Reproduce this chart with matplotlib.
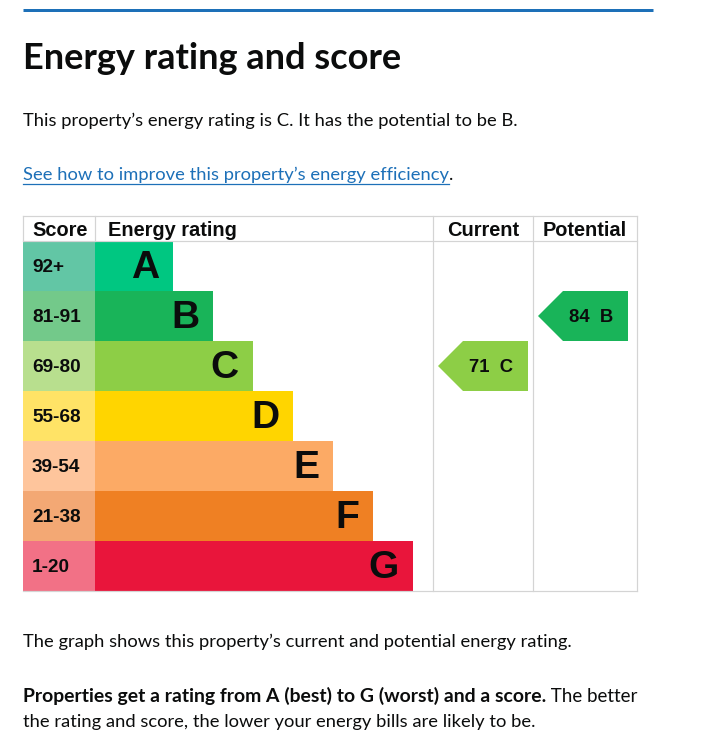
import matplotlib
matplotlib.use("Agg")
import matplotlib.pyplot as plt
from matplotlib.patches import Rectangle, Polygon

# ---- data ----
bands = ["A", "B", "C", "D", "E", "F", "G"]
score_ranges = ["92+", "81-91", "69-80", "55-68", "39-54", "21-38", "1-20"]
band_min = [92, 81, 69, 55, 39, 21, 1]
band_colors = ["#00c781", "#19b459", "#8dce46", "#ffd500", "#fcaa65", "#ef8023", "#e9153b"]
score_colors = ["#62c6a5", "#73c98a", "#b8df8e", "#ffe366", "#fec59c", "#f3a874", "#f27186"]
headers = ["Score", "Energy rating", "Current", "Potential"]
current_score = 71
potential_score = 84

title = "Energy rating and score"
line1 = "This property\u2019s energy rating is C. It has the potential to be B."
link = "See how to improve this property\u2019s energy efficiency"
line_graph = "The graph shows this property\u2019s current and potential energy rating."
bold_part = "Properties get a rating from A (best) to G (worst) and a score."
normal_part = " The better"
line_last = "the rating and score, the lower your energy bills are likely to be."

# ---- figure ----
W, H = 724, 756
fig = plt.figure(figsize=(W / 100, H / 100), dpi=100)
ax = fig.add_axes([0, 0, 1, 1])
ax.set_xlim(0, W)
ax.set_ylim(H, 0)
ax.axis("off")
renderer = fig.canvas.get_renderer()

BLACK = "#0b0c0c"
BLUE = "#1d70b8"
GRID = "#d4d4d4"
BODY_FONT = "Lato"


def px(v):
    return v * 0.72


def width_of(t):
    bb = t.get_window_extent(renderer=renderer)
    return bb.width


def fit_size(s, target, weight, family):
    t = ax.text(0, 0, s, fontsize=20, fontweight=weight, family=family)
    w = width_of(t)
    t.remove()
    return 20 * target / w


# top rule
ax.plot([23, 653], [9.5, 9.5], color=BLUE, lw=3 * 0.72, solid_capstyle="butt")

# title
ts = fit_size(title, 378, "bold", BODY_FONT)
ax.text(23, 69, title, fontsize=ts, fontweight="bold", family=BODY_FONT,
        color=BLACK, va="baseline", ha="left")

# body
bs = fit_size(line1, 494, "normal", BODY_FONT)
ax.text(23, 126, line1, fontsize=bs, family=BODY_FONT, color=BLACK, va="baseline")
lt = ax.text(23, 180, link, fontsize=bs, family=BODY_FONT, color=BLUE, va="baseline")
lw_ = width_of(lt)
ax.plot([23, 23 + lw_], [184, 184], color=BLUE, lw=0.9)
ax.text(23 + lw_, 180, ".", fontsize=bs, family=BODY_FONT, color=BLACK, va="baseline")

ax.text(23, 647, line_graph, fontsize=bs, family=BODY_FONT, color=BLACK, va="baseline")
bbs = min(fit_size(bold_part, 522, "bold", BODY_FONT), bs * 1.06)
bt = ax.text(23, 702, bold_part, fontsize=bbs, family=BODY_FONT, fontweight="bold",
             color=BLACK, va="baseline")
bw = width_of(bt)
ax.text(23 + bw, 702, normal_part, fontsize=bs * 1.02, family=BODY_FONT, color=BLACK,
        va="baseline")
ax.text(23, 727, line_last, fontsize=bs, family=BODY_FONT, color=BLACK, va="baseline")

# ---- table ----
x0, xs, xc, xp, xr = 23, 95, 433, 533, 637
top, hh, rh = 216, 25, 50
ybody = top + hh
ybot = ybody + rh * len(bands)
TFONT = "Liberation Sans"

for i, b in enumerate(bands):
    y = ybody + i * rh
    ax.add_patch(Rectangle((x0, y), xs - x0, rh, facecolor=score_colors[i], edgecolor="none"))
    blen = 78 + 40 * i
    ax.add_patch(Rectangle((xs, y), blen, rh, facecolor=band_colors[i], edgecolor="none"))
    ax.text(32, y + rh / 2 + 1, score_ranges[i], fontsize=px(19), fontweight="bold",
            family=TFONT, color=BLACK, va="center", ha="left")
    ax.text(xs + blen - 14, y + rh / 2 + 2, b, fontsize=px(39), fontweight="bold",
            family=TFONT, color=BLACK, va="center", ha="right")

# grid lines
glw = 1.2 * 0.72
ax.plot([x0, xr], [top, top], color=GRID, lw=glw)
ax.plot([x0, xr], [ybody, ybody], color=GRID, lw=glw)
ax.plot([x0, xr], [ybot, ybot], color=GRID, lw=glw)
ax.plot([x0, x0], [top, ybody], color=GRID, lw=glw)
ax.plot([xs, xs], [top, ybody], color=GRID, lw=glw)
for xv in (xc, xp, xr):
    ax.plot([xv, xv], [top, ybot], color=GRID, lw=glw)

# headers
hy = top + hh / 2 + 1.5
hfs = px(20)
ax.text(32, hy, headers[0], fontsize=hfs, fontweight="bold", family=TFONT,
        color=BLACK, va="center", ha="left")
ax.text(108, hy, headers[1], fontsize=hfs, fontweight="bold", family=TFONT,
        color=BLACK, va="center", ha="left")
ax.text((xc + xp) / 2, hy, headers[2], fontsize=hfs, fontweight="bold", family=TFONT,
        color=BLACK, va="center", ha="center")
ax.text((xp + xr) / 2, hy, headers[3], fontsize=hfs, fontweight="bold", family=TFONT,
        color=BLACK, va="center", ha="center")


def band_index(score):
    for i, m in enumerate(band_min):
        if score >= m:
            return i
    return len(band_min) - 1


def arrow(col_left, score):
    i = band_index(score)
    y = ybody + i * rh
    tip = col_left + 5
    half = rh / 2
    right = tip + 90
    poly = [(tip, y + half), (tip + half, y), (right, y), (right, y + rh), (tip + half, y + rh)]
    ax.add_patch(Polygon(poly, closed=True, facecolor=band_colors[i], edgecolor="none"))
    ax.text((tip + half + right) / 2 - 4, y + half + 1, f"{score}  {bands[i]}",
            fontsize=px(18.5), fontweight="bold", family=TFONT, color=BLACK,
            va="center", ha="center")


arrow(xc, current_score)
arrow(xp, potential_score)

fig.savefig("out.png", dpi=100)
